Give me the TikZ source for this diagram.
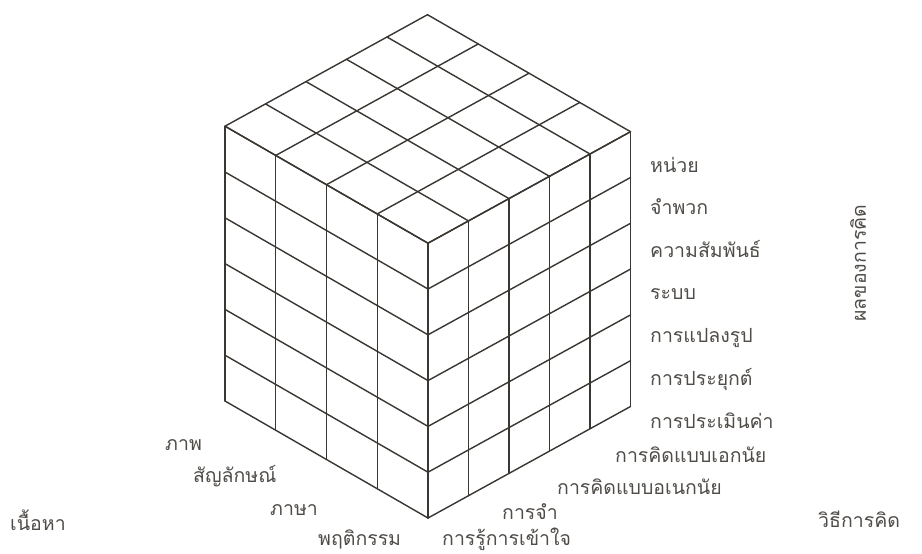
\documentclass[tikz,border=0pt]{standalone}
\usepackage{fontspec}
\usetikzlibrary{calc}
\newfontfamily\thaifont[Script=Thai]{Loma}
\definecolor{inkline}{RGB}{58,54,50}
\definecolor{inktext}{RGB}{80,77,73}
\begin{document}
\begin{tikzpicture}[x=1pt,y=-1pt,
  grid/.style={draw=inkline,line width=1.4pt,line cap=round,line join=round},
  lbl/.style={anchor=base west,inner sep=0pt,text=inktext,font=\thaifont\fontsize{19.5}{22}\selectfont}]
\useasboundingbox[fill=white] (0,0) rectangle (922,554);
% unit vectors
\def\ax{-50.75}\def\ay{-29.25}
\def\bx{40.5}\def\by{-22.3}
\def\cy{-45.8}
\coordinate (F) at (428,518);
% left face
\foreach \i in {0,...,4}{
  \draw[grid] ($(F)+(\i*\ax,\i*\ay)$) -- ++(0,6*\cy);
}
\foreach \k in {0,...,6}{
  \draw[grid] ($(F)+(0,\k*\cy)$) -- ++(4*\ax,4*\ay);
}
% right face
\foreach \j in {0,...,5}{
  \draw[grid] ($(F)+(\j*\bx,\j*\by)$) -- ++(0,6*\cy);
}
\foreach \k in {0,...,6}{
  \draw[grid] ($(F)+(0,\k*\cy)$) -- ++(5*\bx,5*\by);
}
% top face
\coordinate (T) at ($(F)+(0,6*\cy)$);
\foreach \i in {0,...,4}{
  \draw[grid] ($(T)+(\i*\ax,\i*\ay)$) -- ++(5*\bx,5*\by);
}
\foreach \j in {0,...,5}{
  \draw[grid] ($(T)+(\j*\bx,\j*\by)$) -- ++(4*\ax,4*\ay);
}
% product labels
\node[lbl] (p1) at (650,172) {หน่วย};
\node[lbl] (p2) at (650,214) {จำพวก};
\node[lbl] (p3) at (650,257) {ความสัมพันธ์};
\node[lbl] (p4) at (650,299) {ระบบ};
\node[lbl] (p5) at (650,342) {การแปลงรูป};
\node[lbl] (p6) at (650,385) {การประยุกต์};
% operation labels
\node[lbl] (o1) at (650,428) {การประเมินค่า};
\node[lbl] (o2) at (615,462) {การคิดแบบเอกนัย};
\node[lbl] (o3) at (557,494) {การคิดแบบอเนกนัย};
\node[lbl] (o4) at (502,519) {การจำ};
\node[lbl] (o5) at (442,545) {การรู้การเข้าใจ};
% content labels
\node[lbl] (c1) at (165,450) {ภาพ};
\node[lbl] (c2) at (193,482) {สัญลักษณ์};
\node[lbl] (c3) at (270,515) {ภาษา};
\node[lbl] (c4) at (318,545) {พฤติกรรม};
% axis titles
\node[lbl] (tc) at (10,530) {เนื้อหา};
\node[lbl] (to) at (818,527) {วิธีการคิด};
\node[lbl,anchor=center,rotate=90] (tp) at (858,263) {ผลของการคิด};
\end{tikzpicture}
\end{document}
